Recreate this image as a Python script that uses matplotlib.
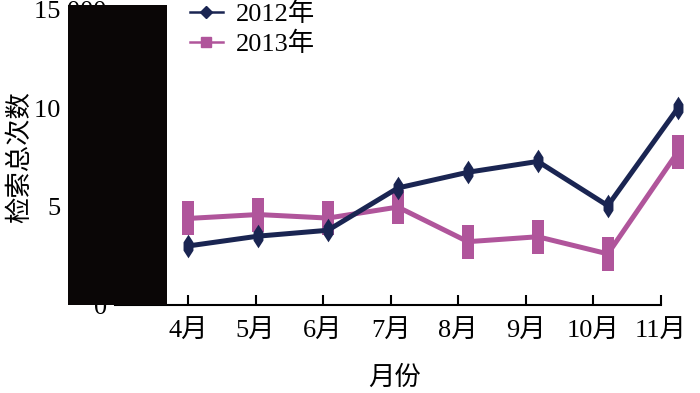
import matplotlib.pyplot as plt
import numpy as np
from matplotlib.lines import Line2D
from matplotlib.patches import Rectangle

plt.rcParams['font.family'] = ['Liberation Serif', 'Noto Sans CJK SC']

# données
mois = ['4月', '5月', '6月', '7月', '8月', '9月', '10月', '11月']
serie_2012 = [3000, 3500, 3800, 5950, 6750, 7300, 5050, 10000]
serie_2013 = [4400, 4600, 4420, 4980, 3220, 3470, 2600, 7780]
yticks = [0, 5000, 10000, 15000]
ytick_labels = ['0', '5 000', '10 000', '15 000']

bleu = '#1a2552'
rose = '#b0559b'

fig = plt.figure(figsize=(7, 3.93), dpi=100)
W, H = 700, 393
# axes : gauche 115px, droite 661px, bas 305px, haut 10px
ax = fig.add_axes([115 / W, 1 - 305 / H, (661 - 115) / W, 295 / H])

x = np.arange(len(mois))
# marqueurs étirés verticalement comme sur l'original
losange = [(0, 1), (0.42, 0.35), (0.42, -0.35), (0, -1), (-0.42, -0.35), (-0.42, 0.35), (0, 1)]
carre = [(-0.37, -1), (0.37, -1), (0.37, 1), (-0.37, 1), (-0.37, -1)]

ax.plot(x, serie_2012, color=bleu, lw=3.6, marker=losange, markersize=17,
        markeredgewidth=0, clip_on=False, zorder=3)
ax.plot(x, serie_2013, color=rose, lw=3.6, marker=carre, markersize=24,
        markeredgewidth=0, clip_on=False, zorder=2)

ax.set_xlim((115 - 188) / 70, (661 - 188) / 70)
ax.set_ylim(0, 15000)

# graduations de l'axe x (un peu plus serrées que les points)
pos_ticks = np.arange(len(mois)) * (67.6 / 70)
ax.set_xticks(pos_ticks)
ax.set_xticklabels(mois, fontsize=19)
ax.tick_params(axis='x', direction='in', length=7, width=1.5, pad=11, color='black')

ax.set_yticks(yticks)
ax.set_yticklabels(ytick_labels, fontsize=19)
ax.tick_params(axis='y', length=0, pad=6)

for s in ['top', 'right', 'left']:
    ax.spines[s].set_visible(False)
ax.spines['bottom'].set_linewidth(1.5)

ax.set_xlabel('月份', fontsize=19)
ax.xaxis.set_label_coords((395 - 115) / 546, -(366 - 305) / 295)
ax.set_ylabel('检索总次数', fontsize=19)
ax.yaxis.set_label_coords((32 - 115) / 546, 0.5)

# légende
h1 = Line2D([], [], color=bleu, lw=1.8, marker='D', markersize=6)
h2 = Line2D([], [], color=rose, lw=1.8, marker='s', markersize=7)
fig.legend([h1, h2], ['2012年', '2013年'], loc='upper left',
           bbox_to_anchor=(190 / W, 1 - 2 / H), frameon=False, fontsize=19,
           handlelength=1.25, handletextpad=0.5, labelspacing=0.2,
           borderpad=0, borderaxespad=0)

# rectangle noir présent sur l'image
fig.patches.append(Rectangle((68 / W, 1 - 305 / H), 99 / W, 300 / H,
                             transform=fig.transFigure, facecolor='#0a0606',
                             edgecolor='none', zorder=5))

fig.savefig('out.png', dpi=100)
